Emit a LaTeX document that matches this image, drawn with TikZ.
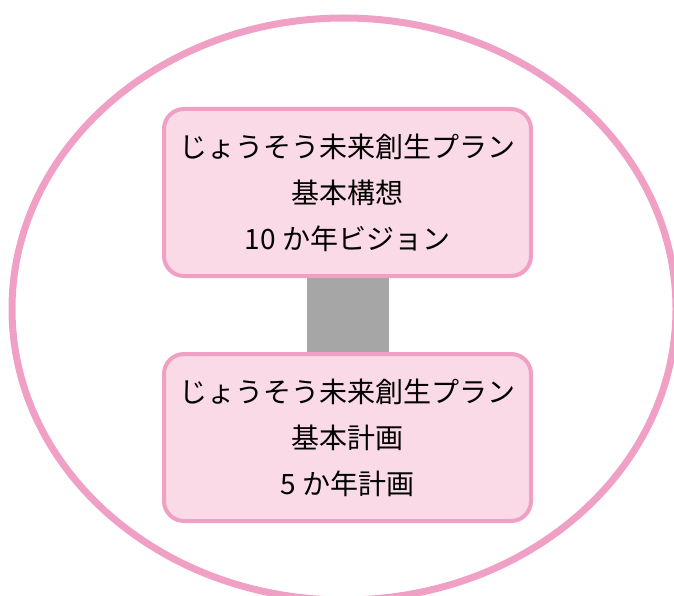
\documentclass[tikz,border=0pt]{standalone}
\usepackage{fontspec}
\setmainfont{Noto Sans CJK JP}
\usetikzlibrary{backgrounds,shapes.geometric}
\definecolor{pinkline}{RGB}{240,160,196}
\definecolor{pinkfill}{RGB}{249,218,230}
\definecolor{linkgray}{RGB}{166,166,166}
\tikzset{
  planbox/.style={draw=pinkline, fill=pinkfill, line width=4pt, rounded corners=20pt,
    minimum width=367pt, minimum height=167pt, align=center, inner sep=0pt,
    font=\fontsize{28}{46}\selectfont, text=black},
  linkbar/.style={draw=linkgray, line width=82pt},
  outer/.style={draw=pinkline, line width=7pt}
}
\begin{document}
\begin{tikzpicture}[x=1pt,y=-1pt]
\useasboundingbox (0,0) rectangle (674,596);
\node[planbox] (a) at (347.5,192.5) {じょうそう未来創生プラン\\基本構想\\10 か年ビジョン};
\node[planbox] (b) at (347.5,437.5) {じょうそう未来創生プラン\\基本計画\\5 か年計画};
\begin{scope}[on background layer]
\node[outer, ellipse, minimum width=664pt, minimum height=582pt, inner sep=0pt] (e) at (344,309) {};
\draw[linkbar] (a.south) -- (b.north);
\end{scope}
\end{tikzpicture}
\end{document}
